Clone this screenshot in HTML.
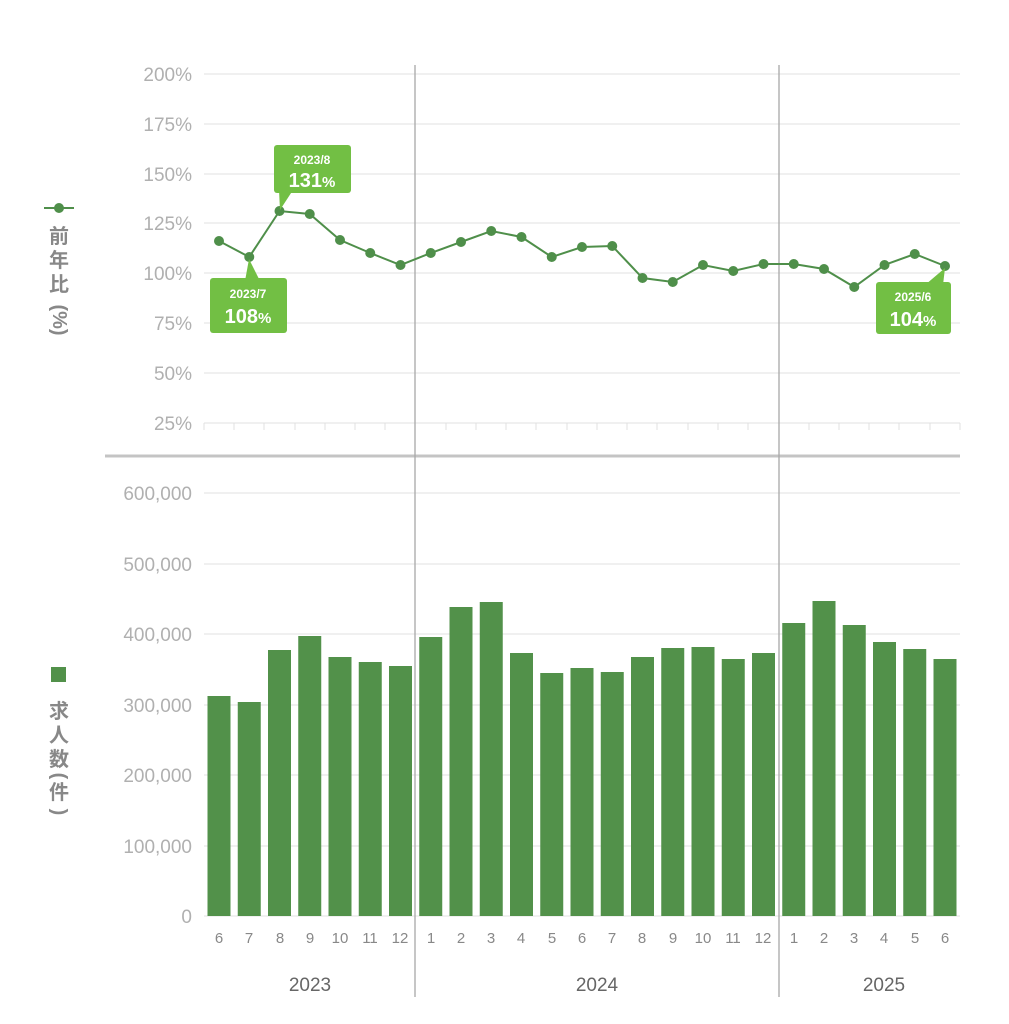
<!DOCTYPE html>
<html><head><meta charset="utf-8"><style>
body{margin:0;background:#fff}
svg{display:block;font-family:"Liberation Sans","Noto Sans CJK JP",sans-serif}
.yl{fill:#b0b0b0;font-size:19px;text-anchor:end}
.xl{fill:#888;font-size:15px;text-anchor:middle}
</style></head><body>
<svg width="1009" height="1024" viewBox="0 0 1009 1024">
<g stroke="#e6e6e6" stroke-width="1.2">
<line x1="204" x2="960" y1="74" y2="74"/><line x1="204" x2="960" y1="124" y2="124"/>
<line x1="204" x2="960" y1="174" y2="174"/><line x1="204" x2="960" y1="223" y2="223"/>
<line x1="204" x2="960" y1="273" y2="273"/><line x1="204" x2="960" y1="323" y2="323"/>
<line x1="204" x2="960" y1="373" y2="373"/><line x1="204" x2="960" y1="423" y2="423"/>
<line x1="204" x2="960" y1="493" y2="493"/><line x1="204" x2="960" y1="564" y2="564"/>
<line x1="204" x2="960" y1="634" y2="634"/><line x1="204" x2="960" y1="705" y2="705"/>
<line x1="204" x2="960" y1="775" y2="775"/><line x1="204" x2="960" y1="846" y2="846"/>
<line x1="204" x2="960" y1="916" y2="916"/>
</g>
<g stroke="#e0e0e0" stroke-width="1">
<path d="M204 423v7M234 423v7M264 423v7M295 423v7M325 423v7M355 423v7M385 423v7M446 423v7M476 423v7M506 423v7M536 423v7M567 423v7M597 423v7M627 423v7M657 423v7M688 423v7M718 423v7M748 423v7M809 423v7M839 423v7M869 423v7M899 423v7M930 423v7M960 423v7"/>
</g>
<g class="yl">
<text x="192" y="81">200%</text><text x="192" y="131">175%</text><text x="192" y="181">150%</text>
<text x="192" y="230">125%</text><text x="192" y="280">100%</text><text x="192" y="330">75%</text>
<text x="192" y="380">50%</text><text x="192" y="430">25%</text>
<text x="192" y="500">600,000</text><text x="192" y="571">500,000</text><text x="192" y="641">400,000</text>
<text x="192" y="712">300,000</text><text x="192" y="782">200,000</text><text x="192" y="853">100,000</text>
<text x="192" y="923">0</text>
</g>
<line x1="105" x2="960" y1="456" y2="456" stroke="#c4c4c4" stroke-width="3"/>
<g fill="#52914a">
<rect x="207.5" y="696" width="23" height="220"/><rect x="237.75" y="702" width="23" height="214"/>
<rect x="268" y="650" width="23" height="266"/><rect x="298.25" y="636" width="23" height="280"/>
<rect x="328.5" y="657" width="23" height="259"/><rect x="358.75" y="662" width="23" height="254"/>
<rect x="389" y="666" width="23" height="250"/><rect x="419.25" y="637" width="23" height="279"/>
<rect x="449.5" y="607" width="23" height="309"/><rect x="479.75" y="602" width="23" height="314"/>
<rect x="510" y="653" width="23" height="263"/><rect x="540.25" y="673" width="23" height="243"/>
<rect x="570.5" y="668" width="23" height="248"/><rect x="600.75" y="672" width="23" height="244"/>
<rect x="631" y="657" width="23" height="259"/><rect x="661.25" y="648" width="23" height="268"/>
<rect x="691.5" y="647" width="23" height="269"/><rect x="721.75" y="659" width="23" height="257"/>
<rect x="752" y="653" width="23" height="263"/><rect x="782.25" y="623" width="23" height="293"/>
<rect x="812.5" y="601" width="23" height="315"/><rect x="842.75" y="625" width="23" height="291"/>
<rect x="873" y="642" width="23" height="274"/><rect x="903.25" y="649" width="23" height="267"/>
<rect x="933.5" y="659" width="23" height="257"/>
</g>
<g stroke="#a8a8a8" stroke-width="1.3"><line x1="415" x2="415" y1="65" y2="997"/><line x1="779" x2="779" y1="65" y2="997"/></g>
<polyline fill="none" stroke="#4f8f4a" stroke-width="2" points="219,241 249.25,257 279.5,211 309.75,214 340,240 370.25,253 400.5,265 430.75,253 461,242 491.25,231 521.5,237 551.75,257 582,247 612.25,246 642.5,278 672.75,282 703,265 733.25,271 763.5,264 793.75,264 824,269 854.25,287 884.5,265 914.75,254 945,266"/>
<g fill="#4f8f4a">
<circle cx="219" cy="241" r="5"/><circle cx="249.25" cy="257" r="5"/><circle cx="279.5" cy="211" r="5"/><circle cx="309.75" cy="214" r="5"/><circle cx="340" cy="240" r="5"/><circle cx="370.25" cy="253" r="5"/><circle cx="400.5" cy="265" r="5"/><circle cx="430.75" cy="253" r="5"/><circle cx="461" cy="242" r="5"/><circle cx="491.25" cy="231" r="5"/><circle cx="521.5" cy="237" r="5"/><circle cx="551.75" cy="257" r="5"/><circle cx="582" cy="247" r="5"/><circle cx="612.25" cy="246" r="5"/><circle cx="642.5" cy="278" r="5"/><circle cx="672.75" cy="282" r="5"/><circle cx="703" cy="265" r="5"/><circle cx="733.25" cy="271" r="5"/><circle cx="763.5" cy="264" r="5"/><circle cx="793.75" cy="264" r="5"/><circle cx="824" cy="269" r="5"/><circle cx="854.25" cy="287" r="5"/><circle cx="884.5" cy="265" r="5"/><circle cx="914.75" cy="254" r="5"/><circle cx="945" cy="266" r="5"/>
</g>
<g fill="#72bf44">
<rect x="274" y="145" width="77" height="48" rx="3"/><polygon points="279,190 293,190 280,210"/>
<rect x="210" y="278" width="77" height="55" rx="3"/><polygon points="249,259 245,281 260,281"/>
<rect x="876" y="282" width="75" height="52" rx="3"/><polygon points="945,268 925,285 943,285"/>
</g>
<g fill="#fff" font-weight="bold" text-anchor="middle">
<text x="312" y="164" font-size="12">2023/8</text><text x="312" y="187" font-size="20">131<tspan font-size="15">%</tspan></text>
<text x="248" y="298" font-size="12">2023/7</text><text x="248" y="323" font-size="20">108<tspan font-size="15">%</tspan></text>
<text x="913" y="301" font-size="12">2025/6</text><text x="913" y="326" font-size="20">104<tspan font-size="15">%</tspan></text>
</g>
<g class="xl">
<text x="219" y="943">6</text><text x="249" y="943">7</text><text x="280" y="943">8</text><text x="310" y="943">9</text><text x="340" y="943">10</text><text x="370" y="943">11</text><text x="400" y="943">12</text><text x="431" y="943">1</text><text x="461" y="943">2</text><text x="491" y="943">3</text><text x="521" y="943">4</text><text x="552" y="943">5</text><text x="582" y="943">6</text><text x="612" y="943">7</text><text x="642" y="943">8</text><text x="673" y="943">9</text><text x="703" y="943">10</text><text x="733" y="943">11</text><text x="763" y="943">12</text><text x="794" y="943">1</text><text x="824" y="943">2</text><text x="854" y="943">3</text><text x="884" y="943">4</text><text x="915" y="943">5</text><text x="945" y="943">6</text>
</g>
<g fill="#666" font-size="19" text-anchor="middle">
<text x="310" y="991">2023</text><text x="597" y="991">2024</text><text x="884" y="991">2025</text>
</g>
<line x1="44" x2="74" y1="208" y2="208" stroke="#4f8f4a" stroke-width="2"/><circle cx="59" cy="208" r="5" fill="#4f8f4a"/>
<g fill="#888" font-size="20" font-weight="bold" text-anchor="middle">
<text x="59" y="243">前</text><text x="59" y="267">年</text><text x="59" y="291">比</text>
<text x="59" y="320" dominant-baseline="central" transform="rotate(90 59 320)">(%)</text>
</g>
<rect x="51" y="667" width="15" height="15" fill="#52914a"/>
<g fill="#888" font-size="20" font-weight="bold" text-anchor="middle">
<text x="59" y="718">求</text><text x="59" y="742">人</text><text x="59" y="766">数</text>
<text x="59" y="776" dominant-baseline="central" transform="rotate(90 59 776)">(</text>
<text x="59" y="799">件</text>
<text x="59" y="812" dominant-baseline="central" transform="rotate(90 59 812)">)</text>
</g>
</svg>
</body></html>
